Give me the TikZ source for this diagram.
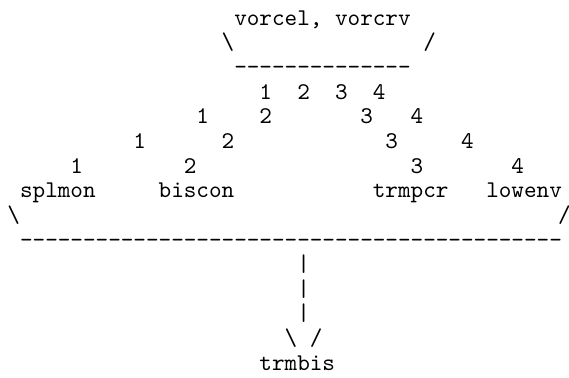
\documentclass[tikz,border=0pt]{standalone}
\tikzset{
  glyphs/.style={anchor=base west, inner sep=0pt, outer sep=0pt,
                 font=\ttfamily\fontsize{10}{12}\selectfont},
}
% a run of separate hyphens (no dash ligatures)
\newcommand\hyphenrun[1]{\foreach\k in {1,...,#1}{-\kern0pt}}
\begin{document}
\begin{tikzpicture}[x={(5.25pt,0pt)}, y={(0pt,-10.27pt)}]
  \useasboundingbox (0pt,0pt) rectangle (237.1pt,-157.5pt);
  \begin{scope}[shift={(3.125pt,-10.5pt)}]
    % top caller
    \node[glyphs] (top)   at (18,0) {vorcel, vorcrv};
    \node[glyphs] (tl)    at (17,1) {\textbackslash};
    \node[glyphs] (tr)    at (33,1) {/};
    \node[glyphs] (tbar)  at (18,2) {\hyphenrun{14}};
    % numbered branches
    \node[glyphs] (a1) at (20,3) {1};
    \node[glyphs] (a2) at (23,3) {2};
    \node[glyphs] (a3) at (26,3) {3};
    \node[glyphs] (a4) at (29,3) {4};
    \node[glyphs] (b1) at (15,4) {1};
    \node[glyphs] (b2) at (20,4) {2};
    \node[glyphs] (b3) at (28,4) {3};
    \node[glyphs] (b4) at (32,4) {4};
    \node[glyphs] (c1) at (10,5) {1};
    \node[glyphs] (c2) at (17,5) {2};
    \node[glyphs] (c3) at (30,5) {3};
    \node[glyphs] (c4) at (36,5) {4};
    \node[glyphs] (d1) at (5,6)  {1};
    \node[glyphs] (d2) at (14,6) {2};
    \node[glyphs] (d3) at (32,6) {3};
    \node[glyphs] (d4) at (40,6) {4};
    % called routines
    \node[glyphs] (splmon) at (1,7)  {splmon};
    \node[glyphs] (biscon) at (12,7) {biscon};
    \node[glyphs] (trmpcr) at (29,7) {trmpcr};
    \node[glyphs] (lowenv) at (38,7) {lowenv};
    \node[glyphs] (bl)   at (0,8)  {\textbackslash};
    \node[glyphs] (br)   at (43.7,8) {/};
    \node[glyphs] (bbar) at (1,9)  {\hyphenrun{43}};
    % common callee
    \node[glyphs] (v1) at (23,10) {|};
    \node[glyphs] (v2) at (23,11) {|};
    \node[glyphs] (v3) at (23,12) {|};
    \node[glyphs] (hl) at (22,13) {\textbackslash};
    \node[glyphs] (hr) at (24,13) {/};
    \node[glyphs] (trmbis) at (20,14) {trmbis};
  \end{scope}
\end{tikzpicture}
\end{document}
